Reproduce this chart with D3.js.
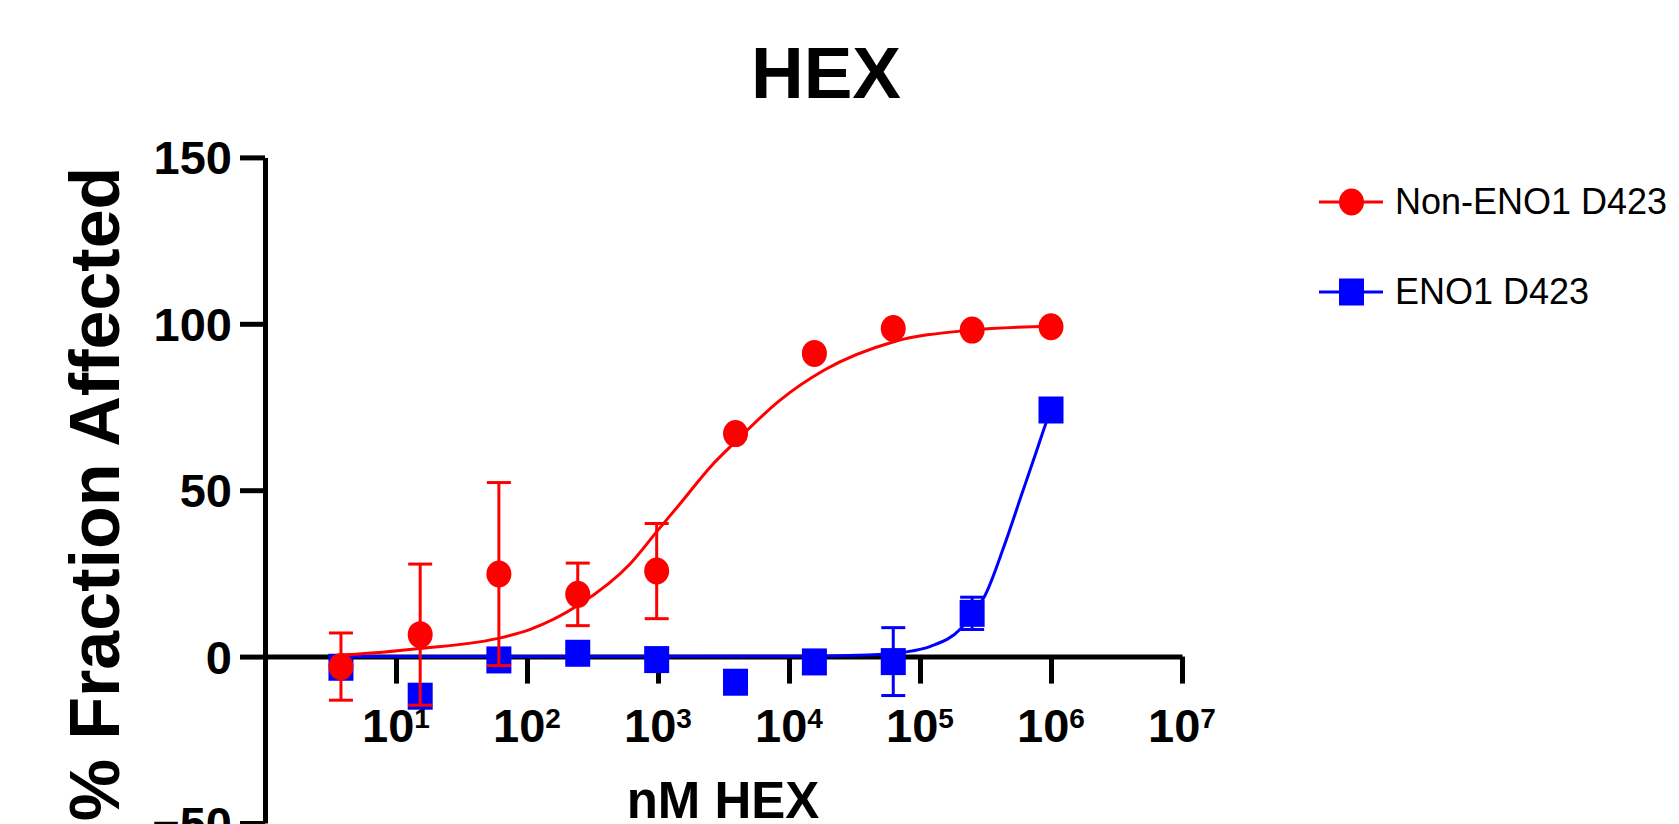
<!DOCTYPE html>
<html>
<head>
<meta charset="utf-8">
<script src="https://cdn.jsdelivr.net/npm/d3@7"></script>
<style>
  html, body { margin: 0; padding: 0; background: #ffffff; }
  svg { display: block; }
</style>
</head>
<body>
<div id="chart"></div>
<script>
// concentrations (nM HEX), 4-fold dilution
const concentrations = [3.8, 15.3, 61, 244, 977, 3906, 15625, 62500, 250000, 1000000]

// Non-ENO1 D423
const nonEnoMean = [-3.0, 6.6, 24.8, 18.7, 25.7, 67.0, 91.1, 98.6, 98.1, 99.1]
const nonEnoSD = [10.1, 21.2, 27.5, 9.4, 14.3, 0, 0, 0, 0, 0]

// ENO1 D423
const enoMean = [-3.2, -11.9, -1.0, 1.0, -0.9, -7.7, -1.6, -1.5, 13.0, 74.1]
const enoSD = [0, 0, 0, 0, 0, 0, 0, 10.2, 4.85, 0]

// fitted curves (log10 nM, % affected)
const nonEnoFitLogX = [0.58, 0.69, 1.18, 1.77, 2.02, 2.39, 2.79, 3.0, 3.17, 3.4, 3.59, 3.93, 4.27, 4.8, 5.39, 6.0]
const nonEnoFitY = [0.5, 0.7, 2.4, 5.4, 8.1, 15.4, 28, 38, 46, 57, 64.5, 77, 86.1, 94.6, 98.1, 99.3]
const enoFitLogX = [0.58, 4.0, 4.6, 4.89, 5.08, 5.31, 5.4, 5.49, 5.64, 5.77, 5.9, 5.96, 6.0]
const enoFitY = [0, 0.1, 0.5, 1.4, 3.1, 8.4, 13, 17.9, 33, 48, 63, 70, 74.1]

// tick values
const xTicks = [1e1, 1e2, 1e3, 1e4, 1e5, 1e6, 1e7]
const yTicks = [-50, 0, 50, 100, 150]

const series = [
  { name: "ENO1 D423", color: "#0000ff", shape: "square", mean: enoMean, sd: enoSD, fitX: enoFitLogX, fitY: enoFitY },
  { name: "Non-ENO1 D423", color: "#ff0000", shape: "circle", mean: nonEnoMean, sd: nonEnoSD, fitX: nonEnoFitLogX, fitY: nonEnoFitY },
]
const legendOrder = ["Non-ENO1 D423", "ENO1 D423"]

const width = 1679
const height = 824
const font = "'Liberation Sans', Arial, sans-serif"

const svg = d3.select("#chart")
  .append("svg")
  .attr("width", width)
  .attr("height", height)
  .attr("font-family", font)

// 比例尺
const x = d3.scaleLog().domain([1, 1e7]).range([265, 1182])
const y = d3.scaleLinear().domain([-50, 150]).range([823, 157.4])

// y 轴
const yAxis = svg.append("g")
  .attr("transform", `translate(${x(1)},0)`)
  .call(d3.axisLeft(y).tickValues(yTicks).tickSize(25).tickSizeOuter(0).tickPadding(8))
yAxis.selectAll("path, line").attr("stroke", "#000").attr("stroke-width", 5)
yAxis.selectAll("text")
  .attr("font-family", font)
  .attr("font-size", 47)
  .attr("font-weight", "bold")
  .attr("fill", "#000")
  .attr("dy", "0.35em")

// x 轴
const xAxis = svg.append("g")
  .attr("transform", `translate(0,${y(0)})`)
  .call(d3.axisBottom(x).tickValues(xTicks).tickSize(27).tickSizeOuter(0).tickFormat(""))
xAxis.selectAll("path, line").attr("stroke", "#000").attr("stroke-width", 5)

// 10^n tick labels
svg.append("g")
  .selectAll("text")
  .data(xTicks)
  .join("text")
  .attr("x", (d) => x(d))
  .attr("y", 742)
  .attr("text-anchor", "middle")
  .attr("font-size", 47)
  .attr("font-weight", "bold")
  .call((t) => {
    t.append("tspan").text("10")
    t.append("tspan")
      .text((d) => Math.round(Math.log10(d)))
      .attr("font-size", 28)
      .attr("dy", -14)
  })

// axis titles
svg.append("text")
  .text("nM HEX")
  .attr("x", 723)
  .attr("y", 818)
  .attr("text-anchor", "middle")
  .attr("font-size", 51)
  .attr("font-weight", "bold")

svg.append("text")
  .text("% Fraction Affected")
  .attr("transform", "translate(119,494) rotate(-90)")
  .attr("text-anchor", "middle")
  .attr("font-size", 70)
  .attr("font-weight", "bold")

svg.append("text")
  .text("HEX")
  .attr("x", 826)
  .attr("y", 98)
  .attr("text-anchor", "middle")
  .attr("font-size", 73)
  .attr("font-weight", "bold")

// series
const line = d3.line()
  .x((d) => x(Math.pow(10, d[0])))
  .y((d) => y(d[1]))
  .curve(d3.curveMonotoneX)

const drawMarker = (g, shape, color, cx, cy) => {
  if (shape === "circle") {
    g.append("ellipse").attr("cx", cx).attr("cy", cy).attr("rx", 12.5).attr("ry", 13.5).attr("fill", color)
  } else {
    g.append("rect").attr("x", cx - 12.5).attr("y", cy - 13.5).attr("width", 25).attr("height", 27).attr("fill", color)
  }
}

series.forEach((s) => {
  const g = svg.append("g")

  // fit curve
  g.append("path")
    .datum(s.fitX.map((v, i) => [v, s.fitY[i]]))
    .attr("d", line)
    .attr("fill", "none")
    .attr("stroke", s.color)
    .attr("stroke-width", 3)

  // error bars
  const pts = concentrations.map((c, i) => ({ c, m: s.mean[i], sd: s.sd[i] }))
  const eb = g.selectAll(".eb")
    .data(pts.filter((p) => p.sd > 0))
    .join("g")
    .attr("stroke", s.color)
    .attr("stroke-width", 3)
  eb.append("line")
    .attr("x1", (p) => x(p.c)).attr("x2", (p) => x(p.c))
    .attr("y1", (p) => y(p.m + p.sd)).attr("y2", (p) => y(p.m - p.sd))
  eb.append("line")
    .attr("x1", (p) => x(p.c) - 12).attr("x2", (p) => x(p.c) + 12)
    .attr("y1", (p) => y(p.m + p.sd)).attr("y2", (p) => y(p.m + p.sd))
  eb.append("line")
    .attr("x1", (p) => x(p.c) - 12).attr("x2", (p) => x(p.c) + 12)
    .attr("y1", (p) => y(p.m - p.sd)).attr("y2", (p) => y(p.m - p.sd))

  // markers
  pts.forEach((p) => drawMarker(g, s.shape, s.color, x(p.c), y(p.m)))
})

// legend
const legend = svg.append("g").attr("transform", "translate(1319,202)")
legendOrder.forEach((name, i) => {
  const s = series.find((d) => d.name === name)
  const g = legend.append("g").attr("transform", `translate(0,${i * 90})`)
  g.append("line")
    .attr("x1", 0).attr("x2", 64)
    .attr("y1", 0).attr("y2", 0)
    .attr("stroke", s.color)
    .attr("stroke-width", 3)
  drawMarker(g, s.shape, s.color, 32.5, 0)
  g.append("text")
    .text(s.name)
    .attr("x", 76)
    .attr("y", 12)
    .attr("font-size", 36)
    .attr("fill", "#000")
})
</script>
</body>
</html>
